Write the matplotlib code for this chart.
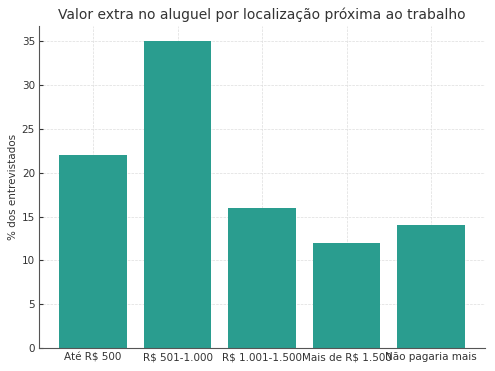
import matplotlib
matplotlib.use("Agg")
import matplotlib.pyplot as plt

categories = ["Até R$ 500", "R$ 501-1.000", "R$ 1.001-1.500", "Mais de R$ 1.500", "Não pagaria mais"]
values = [22, 35, 16, 12, 14]

fig = plt.figure(figsize=(4.95, 3.71), dpi=100)
ax = fig.add_axes([0.079, 0.062, 0.901, 0.868])
ax.bar(categories, values, color="#2a9d8f", width=0.8, zorder=2)
ax.set_title("Valor extra no aluguel por localização próxima ao trabalho", fontsize=10, color="#333333", pad=5)
ax.set_ylabel("% dos entrevistados", fontsize=7.5, color="#333333", labelpad=3)
ax.grid(True, linestyle="--", linewidth=0.5, color="#dddddd", zorder=0)
ax.spines["top"].set_visible(False)
ax.spines["right"].set_visible(False)
for s in ("left", "bottom"):
    ax.spines[s].set_color("#555555")
ax.tick_params(labelsize=7.5, colors="#333333", direction="in", length=3, pad=3)
ax.set_yticks([0, 5, 10, 15, 20, 25, 30, 35])
fig.savefig("out.png", dpi=100)
